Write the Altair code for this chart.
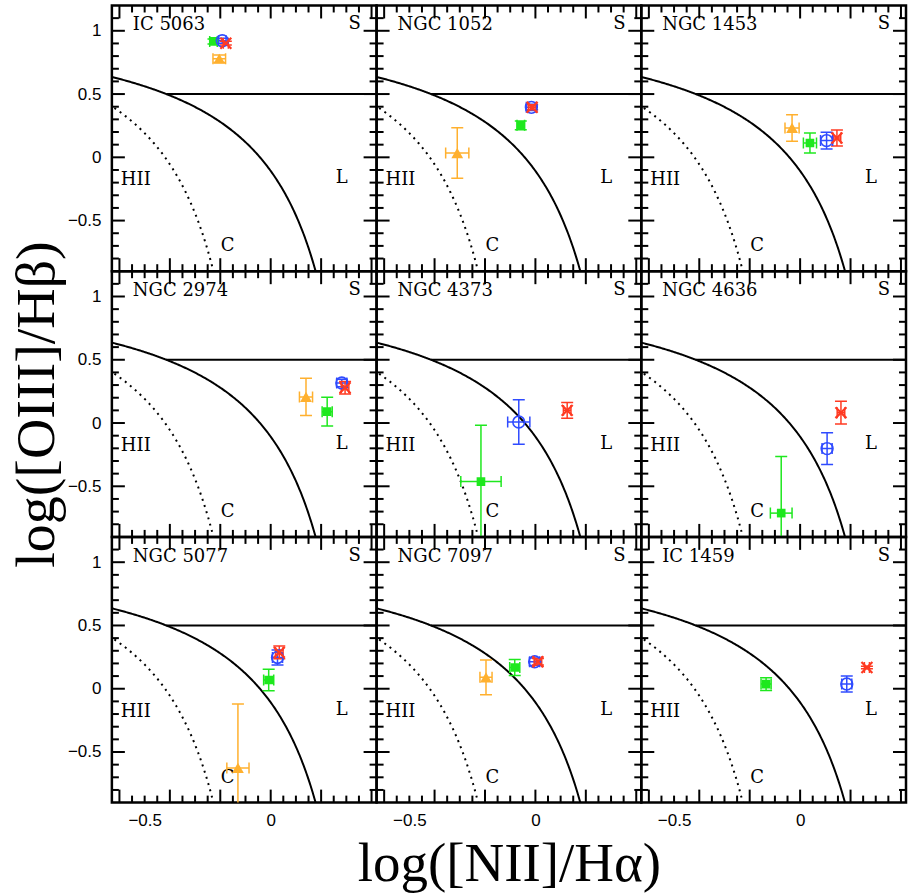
import altair as alt
import pandas as pd

# ---------------- data ----------------
galaxies = ["IC 5063", "NGC 1052", "NGC 1453",
            "NGC 2974", "NGC 4373", "NGC 4636",
            "NGC 5077", "NGC 7097", "IC 1459"]

series_names = ["triangle", "square", "circle", "cross"]

# orange filled triangles
tri_x = [-0.204, -0.310, -0.032, 0.140, None, None, -0.130, -0.196, None]
tri_y = [0.779, 0.034, 0.232, 0.206, None, None, -0.626, 0.090, None]
tri_xerr = [0.025, 0.046, 0.028, 0.026, None, None, 0.044, 0.024, None]
tri_yerr = [0.030, 0.200, 0.105, 0.147, None, None, 0.505, 0.137, None]

# green filled squares
sq_x = [-0.227, -0.058, 0.039, 0.224, -0.216, -0.075, -0.008, -0.082, -0.135]
sq_y = [0.916, 0.253, 0.113, 0.090, -0.463, -0.712, 0.069, 0.168, 0.037]
sq_xerr = [0.015, 0.015, 0.026, 0.020, 0.080, 0.043, 0.020, 0.020, 0.020]
sq_yerr = [0.020, 0.035, 0.079, 0.114, 0.445, 0.447, 0.085, 0.063, 0.050]

# blue open circles
ci_x = [-0.192, -0.016, 0.105, 0.282, -0.066, 0.107, 0.027, -0.003, 0.185]
ci_y = [0.921, 0.395, 0.132, 0.316, 0.008, -0.202, 0.247, 0.213, 0.037]
ci_xerr = [0.015, 0.020, 0.024, 0.020, 0.044, 0.020, 0.020, 0.020, 0.020]
ci_yerr = [0.020, 0.025, 0.066, 0.030, 0.176, 0.125, 0.060, 0.030, 0.063]

# red crosses
cr_x = [-0.178, -0.013, 0.146, 0.295, 0.126, 0.162, 0.034, 0.010, 0.265]
cr_y = [0.902, 0.395, 0.153, 0.279, 0.100, 0.082, 0.287, 0.213, 0.168]
cr_xerr = [0.010, 0.015, 0.015, 0.015, 0.015, 0.015, 0.015, 0.015, 0.010]
cr_yerr = [0.015, 0.020, 0.063, 0.050, 0.062, 0.090, 0.050, 0.025, 0.010]

x_major_ticks = [-0.6, -0.4, -0.2, 0.0, 0.2, 0.4]
x_minor_ticks = [-0.55, -0.5, -0.45, -0.35, -0.3, -0.25, -0.15, -0.1, -0.05,
                 0.05, 0.1, 0.15, 0.25, 0.3, 0.35]
y_major_ticks = [-0.5, 0.0, 0.5, 1.0]
y_minor_ticks = [-0.8, -0.7, -0.6, -0.4, -0.3, -0.2, -0.1, 0.1, 0.2, 0.3, 0.4,
                 0.6, 0.7, 0.8, 0.9, 1.1]
x_tick_labels = [-0.5, 0.0]
y_tick_labels = [-0.5, 0.0, 0.5, 1.0]

region_labels = ["S", "L", "HII", "C"]
X_TITLE = "log([NII]/Hα)"
Y_TITLE = "log([OIII]/Hβ)"

# demarcation curves: y = a / (x - b) + c
KEWLEY = (0.61, 0.47, 1.19)
KAUFFMANN = (0.61, 0.05, 1.30)
SEYFERT_Y = 0.5

# ---------------- table ----------------
values = {
    "triangle": (tri_x, tri_y, tri_xerr, tri_yerr),
    "square": (sq_x, sq_y, sq_xerr, sq_yerr),
    "circle": (ci_x, ci_y, ci_xerr, ci_yerr),
    "cross": (cr_x, cr_y, cr_xerr, cr_yerr),
}
rows = []
for s, (xs_, ys_, xe_, ye_) in values.items():
    for g, x, y, dx, dy in zip(galaxies, xs_, ys_, xe_, ye_):
        if x is None:
            continue
        rows.append(dict(galaxy=g, series=s, x=x, y=y,
                         xlo=x - dx, xhi=x + dx, ylo=y - dy, yhi=y + dy))
df = pd.DataFrame(rows)

# ---------------- styles ----------------
W, H = 265, 266
X_DOM = [-0.63, 0.42]
Y_DOM = [-0.9, 1.2]
SERIF = "DejaVu Serif"
TITLE_SERIF = "Liberation Serif"
SANS = "Liberation Sans"
COLORS = {"triangle": "#FFB02E", "square": "#1EE81E",
          "circle": "#2F4BFF", "cross": "#FF3A22"}
MARKS = {
    "triangle": dict(shape="triangle-up", filled=True, size=140),
    "square": dict(shape="square", filled=True, size=75),
    "circle": dict(shape="circle", filled=False, size=140, strokeWidth=1.6),
    "cross": dict(shape="M-1,-1L1,1M-1,1L1,-1", filled=False, size=120,
                  strokeWidth=2.2),
}
MAJ, MIN = 13, 7
label_pos = {"S": (243, 19, "center"), "L": (230, 173, "center"),
             "HII": (9, 175, "left"), "C": (116, 241, "center")}

seyfert_x0 = KEWLEY[1] + KEWLEY[0] / (SEYFERT_Y - KEWLEY[2])


def curve_expr(p):
    a, b, c = p
    return f"{a}/(datum.t-{b})+{c}"


def panel(i, g):
    r, c = divmod(i, 3)
    xs = alt.Scale(domain=X_DOM, nice=False, zero=False)
    ys = alt.Scale(domain=Y_DOM, nice=False, zero=False)
    if r == 2:
        xaxis = alt.Axis(values=x_tick_labels, format="~g", ticks=False,
                         tickSize=0, domain=False, grid=False,
                         labelFont=SANS, labelFontSize=17, labelColor="black",
                         labelPadding=10, labelFlush=False, labelOverlap=False,
                         title=X_TITLE if c == 1 else None,
                         titleFont=TITLE_SERIF, titleFontSize=55,
                         titleFontWeight="normal", titleColor="black",
                         titlePadding=9)
    else:
        xaxis = None
    if c == 0:
        yaxis = alt.Axis(values=y_tick_labels, format="~g", ticks=False,
                         tickSize=0, domain=False, grid=False,
                         labelFont=SANS, labelFontSize=17, labelColor="black",
                         labelPadding=11, labelFlush=False, labelOverlap=False,
                         title=Y_TITLE if r == 1 else None,
                         titleFont=TITLE_SERIF, titleFontSize=56,
                         titleFontWeight="normal", titleColor="black",
                         titlePadding=2)
    else:
        yaxis = None

    def X(f):
        return alt.X(f"{f}:Q", scale=xs, axis=xaxis)

    def Y(f):
        return alt.Y(f"{f}:Q", scale=ys, axis=yaxis)

    layers = []
    # demarcation curves
    layers.append(
        alt.Chart(alt.sequence(-0.63, 0.19, 0.004, as_="t"))
        .transform_calculate(v=curve_expr(KEWLEY))
        .mark_line(clip=True, color="black", strokeWidth=2)
        .encode(x=X("t"), y=Y("v"))
    )
    layers.append(
        alt.Chart(alt.sequence(-0.62, -0.2, 0.004, as_="t"))
        .transform_calculate(v=curve_expr(KAUFFMANN))
        .mark_line(clip=True, color="black", strokeWidth=2, strokeDash=[2, 4.5])
        .encode(x=X("t"), y=Y("v"))
    )
    layers.append(
        alt.Chart(pd.DataFrame({"x0": [seyfert_x0], "y": [SEYFERT_Y]}))
        .mark_rule(color="black", strokeWidth=2)
        .encode(x=X("x0"), x2=alt.value(W), y=Y("y"))
    )
    # ticks
    for vals, L in ((x_major_ticks, MAJ), (x_minor_ticks, MIN)):
        d = pd.DataFrame({"v": vals})
        layers.append(alt.Chart(d).mark_rule(color="black", strokeWidth=2)
                      .encode(x=X("v"), y=alt.value(0), y2=alt.value(L)))
        layers.append(alt.Chart(d).mark_rule(color="black", strokeWidth=2)
                      .encode(x=X("v"), y=alt.value(H), y2=alt.value(H - L)))
    for vals, L in ((y_major_ticks, MAJ), (y_minor_ticks, MIN)):
        d = pd.DataFrame({"v": vals})
        layers.append(alt.Chart(d).mark_rule(color="black", strokeWidth=2)
                      .encode(y=Y("v"), x=alt.value(0), x2=alt.value(L)))
        layers.append(alt.Chart(d).mark_rule(color="black", strokeWidth=2)
                      .encode(y=Y("v"), x=alt.value(W), x2=alt.value(W - L)))

    # text labels
    layers.append(
        alt.Chart(pd.DataFrame({"t": [g]}))
        .mark_text(align="left", baseline="middle", font=SERIF, fontSize=18,
                   color="black")
        .encode(x=alt.value(21), y=alt.value(20), text="t:N")
    )
    for lab in region_labels:
        px, py, al = label_pos[lab]
        layers.append(
            alt.Chart(pd.DataFrame({"t": [lab]}))
            .mark_text(align=al, baseline="middle", font=SERIF, fontSize=18,
                       color="black")
            .encode(x=alt.value(px), y=alt.value(py), text="t:N")
        )

    # data with error bars
    d = df[df.galaxy == g]
    color = alt.Color("series:N",
                      scale=alt.Scale(domain=series_names,
                                      range=[COLORS[s] for s in series_names]),
                      legend=None)
    layers.append(alt.Chart(d).mark_rule(clip=True, strokeWidth=1.5)
                  .encode(x=X("xlo"), x2=alt.X2("xhi"), y=Y("y"), color=color))
    layers.append(alt.Chart(d).mark_rule(clip=True, strokeWidth=1.5)
                  .encode(x=X("x"), y=Y("ylo"), y2=alt.Y2("yhi"), color=color))
    for f in ("ylo", "yhi"):
        layers.append(alt.Chart(d).mark_tick(clip=True, orient="horizontal",
                                             size=12, thickness=1.5, opacity=1)
                      .encode(x=X("x"), y=Y(f), color=color))
    for f in ("xlo", "xhi"):
        layers.append(alt.Chart(d).mark_tick(clip=True, orient="vertical",
                                             size=11, thickness=1.5, opacity=1)
                      .encode(x=X(f), y=Y("y"), color=color))
    for s in series_names:
        ds = d[d.series == s]
        if len(ds) == 0:
            continue
        layers.append(alt.Chart(ds).mark_point(color=COLORS[s], opacity=1,
                                               clip=True, **MARKS[s])
                      .encode(x=X("x"), y=Y("y")))

    return alt.layer(*layers).properties(width=W, height=H)


panels = [panel(i, g) for i, g in enumerate(galaxies)]

chart = (
    alt.concat(*panels, columns=3, spacing=0, bounds="flush")
    .properties(padding={"left": 7, "top": 2, "right": 0, "bottom": 0},
                background="white")
    .configure_view(stroke="black", strokeWidth=2.5)
)

chart.save("out.html", embed_options={"renderer": "svg", "actions": False})
